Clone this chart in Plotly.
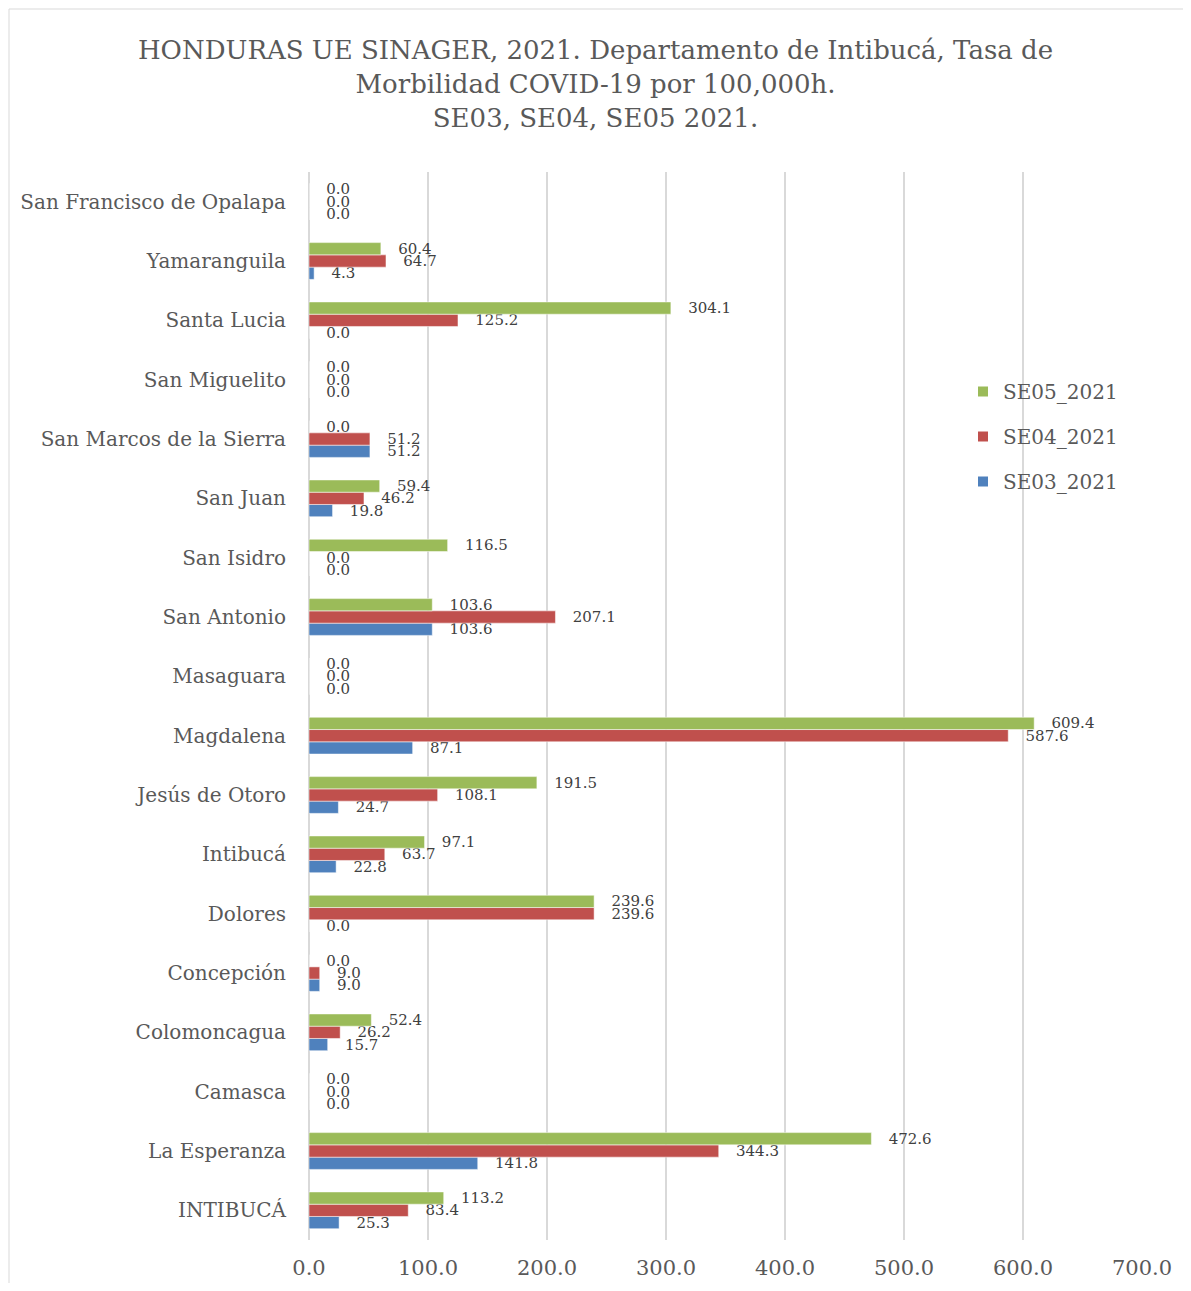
import plotly.graph_objects as go

categories = ["INTIBUCÁ", "La Esperanza", "Camasca", "Colomoncagua", "Concepción",
              "Dolores", "Intibucá", "Jesús de Otoro", "Magdalena", "Masaguara",
              "San Antonio", "San Isidro", "San Juan", "San Marcos de la Sierra",
              "San Miguelito", "Santa Lucia", "Yamaranguila", "San Francisco de Opalapa"]

se03 = [25.3, 141.8, 0.0, 15.7, 9.0, 0.0, 22.8, 24.7, 87.1, 0.0,
        103.6, 0.0, 19.8, 51.2, 0.0, 0.0, 4.3, 0.0]
se04 = [83.4, 344.3, 0.0, 26.2, 9.0, 239.6, 63.7, 108.1, 587.6, 0.0,
        207.1, 0.0, 46.2, 51.2, 0.0, 125.2, 64.7, 0.0]
se05 = [113.2, 472.6, 0.0, 52.4, 0.0, 239.6, 97.1, 191.5, 609.4, 0.0,
        103.6, 116.5, 59.4, 0.0, 0.0, 304.1, 60.4, 0.0]

x_ticks = [0, 100, 200, 300, 400, 500, 600, 700]

FONT = "DejaVu Serif"
GRAY = "#595959"

# page has an 8px body margin; figure is laid out accordingly
W, H = 1175, 1275
ML, MR, MT, MB = 301, 41, 164, 43
PW, PH = W - ML - MR, H - MT - MB

fig = go.Figure()
for name, vals, col, rank in [("SE03_2021", se03, "#4F81BD", 3),
                              ("SE04_2021", se04, "#C0504D", 2),
                              ("SE05_2021", se05, "#9BBB59", 1)]:
    fig.add_trace(go.Bar(
        y=categories, x=vals, name=name, orientation="h",
        legendgroup=name, legendrank=rank,
        marker=dict(color=col, line=dict(color="white", width=0.5)),
        text=[f"   {v:.1f}" for v in vals], textposition="outside",
        constraintext="none",
        textfont=dict(family=FONT, size=15, color="#404040"),
        cliponaxis=False,
    ))

fig.update_layout(
    width=W, height=H,
    paper_bgcolor="white", plot_bgcolor="white",
    margin=dict(l=ML, r=MR, t=MT, b=MB, autoexpand=False),
    barmode="group", bargap=0.38, bargroupgap=0,
    font=dict(family=FONT, color=GRAY),
    title=dict(
        text="HONDURAS UE SINAGER, 2021. Departamento de Intibucá, Tasa de<br>Morbilidad COVID-19 por 100,000h.<br>SE03, SE04, SE05 2021.",
        x=0.5, xanchor="center", xref="container",
        y=1 - 51 / H, yanchor="middle", yref="container",
        font=dict(family=FONT, size=26, color=GRAY),
        automargin=False,
    ),
    legend=dict(
        x=(963 - 309) / PW, y=1 - (372 - 172) / PH, xanchor="left", yanchor="top",
        traceorder="grouped", bgcolor="rgba(0,0,0,0)",
        font=dict(family=FONT, size=20, color=GRAY),
        itemsizing="constant", tracegroupgap=16,
    ),
    showlegend=True,
)
fig.update_xaxes(
    range=[0, 700], tickvals=x_ticks, ticktext=[f"{v:.1f}" for v in x_ticks],
    showgrid=True, gridcolor="#D9D9D9", gridwidth=1.5,
    zeroline=True, zerolinecolor="#D9D9D9", zerolinewidth=1.5,
    tickfont=dict(family=FONT, size=21, color=GRAY), ticks="",
    ticklabelstandoff=13, automargin=False,
)
fig.update_yaxes(
    tickfont=dict(family=FONT, size=20, color=GRAY),
    showgrid=False, ticks="", automargin=False,
    ticklabelstandoff=22,
    categoryorder="array", categoryarray=categories,
)
fig.add_shape(type="rect", xref="paper", yref="paper",
              x0=(9 - 309) / PW, x1=(1189 - 309) / PW,
              y0=(1240 - 1300) / PH, y1=(1240 - 9) / PH,
              line=dict(color="#D9D9D9", width=1), layer="below")

fig.write_html("out.html")
